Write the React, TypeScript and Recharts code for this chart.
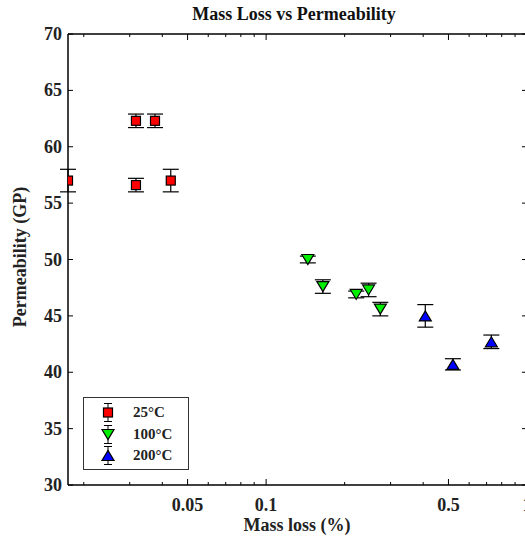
import { ScatterChart, Scatter, XAxis, YAxis, ErrorBar, ReferenceLine, Legend } from 'recharts';

// Mass loss (%) / permeability (GP) / error, per annealing temperature
const mass25 = [0.0174, 0.0317, 0.0375, 0.0317, 0.0431];
const perm25 = [57.0, 62.3, 62.3, 56.6, 57.0];
const err25 = [1.0, 0.6, 0.6, 0.6, 1.0];

const mass100 = [0.1445, 0.165, 0.2215, 0.247, 0.274];
const perm100 = [50.0, 47.6, 46.9, 47.3, 45.6];
const err100 = [0.3, 0.6, 0.3, 0.6, 0.6];

const mass200 = [0.4075, 0.52, 0.73];
const perm200 = [45.0, 40.7, 42.7];
const err200 = [1.0, 0.5, 0.6];

const seriesNames = ['25°C', '100°C', '200°C'];
const seriesColors = ['#ff0000', '#00ee00', '#0000ff'];

const xTicks = [0.02, 0.03, 0.04, 0.05, 0.06, 0.07, 0.08, 0.09, 0.1, 0.2, 0.3, 0.4, 0.5, 0.6, 0.7, 0.8, 0.9, 1];
const xMajor = [0.05, 0.1, 0.5, 1];
const yTicks = [30, 35, 40, 45, 50, 55, 60, 65, 70];

const CHART_W = 527;
const CHART_H = 540;
const TOP = 34;
const LEFT = 68;
const XAXIS_H = 55;
const PLOT_H = CHART_H - TOP - XAXIS_H;
const PLOT_W = CHART_W - LEFT;

const FONT = '"Liberation Serif", "Times New Roman", serif';
const TEXT = '#222';
const FS = 18;

const toPoints = (xs: number[], ys: number[], es: number[]) =>
  xs.map((x, i) => ({ x, y: ys[i], err: es[i] }));

const XTick = (props: any) => {
  const { x, y, payload } = props;
  const major = xMajor.includes(payload.value);
  const len = major ? 6 : 3;
  return (
    <g>
      <line x1={x} x2={x} y1={y} y2={y - len} stroke="#000" />
      <line x1={x} x2={x} y1={y - PLOT_H} y2={y - PLOT_H + len} stroke="#000" />
      {major && (
        <text x={x} y={y + 26} textAnchor="middle" fontFamily={FONT} fontWeight="bold" fontSize={FS} fill={TEXT}>
          {payload.value}
        </text>
      )}
    </g>
  );
};

const YTick = (props: any) => {
  const { x, y, payload } = props;
  return (
    <g>
      <line x1={x} x2={x + 5} y1={y} y2={y} stroke="#000" />
      <line x1={x + PLOT_W} x2={x + PLOT_W - 5} y1={y} y2={y} stroke="#000" />
      <text x={x - 6} y={y + 6} textAnchor="end" fontFamily={FONT} fontWeight="bold" fontSize={FS} fill={TEXT}>
        {payload.value}
      </text>
    </g>
  );
};

const Square = (props: any) => {
  const { cx, cy } = props;
  return <rect x={cx - 4.5} y={cy - 4.5} width={9} height={9} fill={seriesColors[0]} stroke="#000" strokeWidth={1.2} />;
};

const TriDown = (props: any) => {
  const { cx, cy } = props;
  return (
    <polygon
      points={`${cx - 6},${cy - 5} ${cx + 6},${cy - 5} ${cx},${cy + 5}`}
      fill={seriesColors[1]}
      stroke="#000"
      strokeWidth={1.2}
    />
  );
};

const TriUp = (props: any) => {
  const { cx, cy } = props;
  return (
    <polygon
      points={`${cx - 6},${cy + 5} ${cx + 6},${cy + 5} ${cx},${cy - 5}`}
      fill={seriesColors[2]}
      stroke="#000"
      strokeWidth={1.2}
    />
  );
};

const shapes = [Square, TriDown, TriUp];

const LegendBox = () => (
  <div
    style={{
      border: '1.5px solid #333',
      width: 106,
      height: 73,
      boxSizing: 'border-box',
      background: '#fff',
      paddingTop: 4,
    }}
  >
    {seriesNames.map((name, i) => {
      const Shape = shapes[i];
      return (
        <div key={name} style={{ display: 'flex', alignItems: 'center', height: 21.5 }}>
          <svg width={46} height={21} style={{ display: 'block' }}>
            <line x1={24} x2={24} y1={1} y2={20} stroke="#000" />
            <line x1={20} x2={28} y1={1.5} y2={1.5} stroke="#000" />
            <line x1={20} x2={28} y1={19.5} y2={19.5} stroke="#000" />
            <Shape cx={24} cy={10.5} />
          </svg>
          <span style={{ fontFamily: FONT, fontWeight: 'bold', fontSize: 15, color: TEXT, marginLeft: 3 }}>{name}</span>
        </div>
      );
    })}
  </div>
);

export default function App() {
  const sets = [
    toPoints(mass25, perm25, err25),
    toPoints(mass100, perm100, err100),
    toPoints(mass200, perm200, err200),
  ];

  return (
    <div
      style={{
        position: 'absolute',
        left: 0,
        top: 0,
        width: 525,
        height: 540,
        overflow: 'hidden',
        background: '#fff',
      }}
    >
      <div
        style={{
          position: 'absolute',
          left: 0,
          width: 588,
          top: 4,
          textAlign: 'center',
          fontFamily: FONT,
          fontWeight: 'bold',
          fontSize: FS,
          color: '#111',
        }}
      >
        Mass Loss vs Permeability
      </div>
      <div
        style={{
          position: 'absolute',
          left: 0,
          width: 594,
          top: 515,
          textAlign: 'center',
          fontFamily: FONT,
          fontWeight: 'bold',
          fontSize: FS,
          color: TEXT,
        }}
      >
        Mass loss (%)
      </div>
      <div
        style={{
          position: 'absolute',
          left: 20,
          top: 257,
          transform: 'translate(-50%, -50%) rotate(-90deg)',
          whiteSpace: 'nowrap',
          fontFamily: FONT,
          fontWeight: 'bold',
          fontSize: FS,
          color: TEXT,
        }}
      >
        Permeability (GP)
      </div>
      <ScatterChart width={CHART_W} height={CHART_H} margin={{ top: TOP, right: 0, bottom: 0, left: 0 }}>
        <XAxis
          type="number"
          dataKey="x"
          scale="log"
          domain={[0.0174, 1]}
          ticks={xTicks}
          interval={0}
          allowDataOverflow
          height={XAXIS_H}
          tickSize={0}
          tickMargin={0}
          tick={<XTick />}
          axisLine={{ stroke: '#000', strokeWidth: 1.5 }}
        />
        <YAxis
          type="number"
          dataKey="y"
          domain={[30, 70]}
          ticks={yTicks}
          interval={0}
          width={LEFT}
          tickSize={0}
          tickMargin={0}
          tick={<YTick />}
          axisLine={{ stroke: '#000', strokeWidth: 1.5 }}
        />
        <ReferenceLine y={70} stroke="#000" strokeWidth={1.5} />
        <ReferenceLine x={1} stroke="#000" strokeWidth={1.5} />
        <Legend
          layout="vertical"
          align="center"
          verticalAlign="middle"
          content={<LegendBox />}
          wrapperStyle={{ left: 83, top: 397, width: 'auto' }}
        />
        {sets.map((data, i) => (
          <Scatter key={seriesNames[i]} name={seriesNames[i]} data={data} shape={shapes[i]} isAnimationActive={false}>
            <ErrorBar dataKey="err" direction="y" width={8} stroke="#000" strokeWidth={1.2} />
          </Scatter>
        ))}
      </ScatterChart>
    </div>
  );
}
